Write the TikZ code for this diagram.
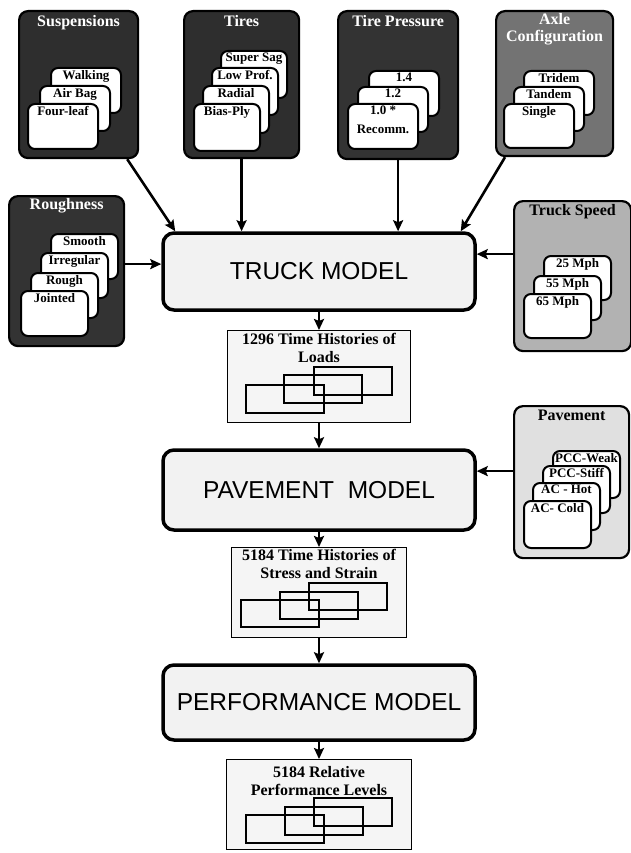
\documentclass[tikz,border=0pt]{standalone}
\usepackage{fontspec}
\setmainfont{Liberation Serif}
\setsansfont{Liberation Sans}
\usetikzlibrary{arrows.meta,calc}

\tikzset{
  parbox/.style={draw, line width=2.2pt, rounded corners=9pt, anchor=north west, inner sep=0pt},
  partitle/.style={font=\bfseries\fontsize{16}{17}\selectfont, inner sep=5pt, align=center},
  card/.style={draw, line width=2pt, fill=white, rounded corners=7pt, anchor=north west, inner sep=0pt, minimum height=45pt},
  cardtxt/.style={font=\bfseries\fontsize{13}{15}\selectfont, inner sep=3pt, align=center},
  model/.style={draw, line width=3.5pt, rounded corners=11pt, fill=black!5, minimum width=312pt, font=\sffamily\fontsize{24.5}{26}\selectfont},
  result/.style={draw, line width=1.1pt, fill=black!4, anchor=north, inner sep=0pt},
  restxt/.style={font=\bfseries\fontsize{16}{18}\selectfont, align=center},
  win/.style={line width=1.1pt},
  arr/.style={line width=2.6pt, -{Stealth[length=11pt,width=10pt,inset=2pt]}}
}

\begin{document}
\begin{tikzpicture}[x=1pt,y=-1pt]
  \clip (0,0) rectangle (631,853);

  % Parameter boxes on top
  \node[parbox, fill=black!82, minimum width=119pt, minimum height=147pt,
    label={[partitle, text=white, anchor=north]north:Suspensions}] (susp) at (18,10) {};
  \foreach \x/\y/\t [count=\n] in {50/67/Walking, 39/85/Air Bag, 27/103/Four-leaf}
    \node[card, minimum width=70pt, label={[cardtxt, anchor=north]north:\t}] (susp\n) at (\x,\y) {};

  \node[parbox, fill=black!82, minimum width=115pt, minimum height=147pt,
    label={[partitle, text=white, anchor=north]north:Tires}] (tires) at (183,10) {};
  \foreach \x/\y/\t [count=\n] in {220/50/Super Sag, 211/67/Low Prof., 202/85/Radial, 193/103/Bias-Ply}
    \node[card, minimum width=66pt, minimum height=47pt, label={[cardtxt, anchor=north]north:\t}] (tire\n) at (\x,\y) {};

  \node[parbox, fill=black!80, minimum width=120pt, minimum height=148pt,
    label={[partitle, text=white, anchor=north]north:Tire Pressure}] (press) at (337,10) {};
  \foreach \x/\y/\t [count=\n] in {368/70/1.4, 357/86/1.2, 347/103/{1.0 *\\[4pt]Recomm.}}
    \node[card, minimum width=70pt, label={[cardtxt, anchor=north]north:\t}] (press\n) at (\x,\y) {};

  \node[parbox, fill=black!55, minimum width=117pt, minimum height=145pt,
    label={[partitle, text=white, anchor=north, inner sep=3pt]north:Axle\\Configuration}] (axle) at (495,10) {};
  \foreach \x/\y/\t [count=\n] in {523/70/Tridem, 513/86/Tandem, 503/103/Single}
    \node[card, minimum width=70pt, minimum height=44pt, label={[cardtxt, anchor=north]north:\t}] (axle\n) at (\x,\y) {};

  % Parameter boxes on the sides
  \node[parbox, fill=black!80, minimum width=115pt, minimum height=150pt,
    label={[partitle, text=white, anchor=north, inner sep=3pt]north:Roughness}] (rough) at (8,195) {};
  \foreach \x/\y/\t [count=\n] in {50/233/Smooth, 40/252/Irregular, 30/272/Rough, 20/290/Jointed}
    \node[card, minimum width=67pt, label={[cardtxt, anchor=north]north:\t}] (rough\n) at (\x,\y) {};

  \node[parbox, fill=black!30, minimum width=117pt, minimum height=150pt,
    label={[partitle, anchor=north, inner sep=4pt]north:Truck Speed}] (speed) at (513,200) {};
  \foreach \x/\y/\t [count=\n] in {543/255/25 Mph, 533/275/55 Mph, 523/293/65 Mph}
    \node[card, minimum width=67pt, minimum height=44pt, label={[cardtxt, anchor=north]north:\t}] (speed\n) at (\x,\y) {};

  \node[parbox, fill=black!12, minimum width=115pt, minimum height=152pt,
    label={[partitle, anchor=north, inner sep=5pt]north:Pavement}] (pave) at (513,405) {};
  \foreach \x/\y/\t [count=\n] in {552/450/PCC-Weak, 542/465/PCC-Stiff, 532/482/AC - Hot, 523/500/AC- Cold}
    \node[card, minimum width=67pt, minimum height=47pt, label={[cardtxt, anchor=north]north:\t}] (pave\n) at (\x,\y) {};

  % Models
  \node[model, minimum height=77pt] (truck) at (319,271.5) {TRUCK MODEL};
  \node[model, minimum height=80pt] (pavement) at (319,490) {PAVEMENT\ \ MODEL};
  \node[model, minimum height=75pt] (perf) at (319,702.5) {PERFORMANCE MODEL};

  % Results
  \node[result, minimum width=183pt, minimum height=92pt,
    label={[restxt, anchor=north, inner sep=3pt]north:1296 Time Histories of\\Loads}] (loads) at (319,330) {};
  \foreach \dx/\dy in {19/55, 57/45, 87/37}
    \draw[win] ($(loads.north west)+(\dx,\dy)$) rectangle +(78,28);

  \node[result, minimum width=175pt, minimum height=90pt,
    label={[restxt, anchor=north, inner sep=2pt]north:5184 Time Histories of\\Stress and Strain}] (stress) at (319,547) {};
  \foreach \dx/\dy in {10/53, 49/45, 78/36}
    \draw[win] ($(stress.north west)+(\dx,\dy)$) rectangle +(78,27);

  \node[result, minimum width=185pt, minimum height=90pt,
    label={[restxt, anchor=north, inner sep=7pt]north:5184 Relative\\Performance Levels}] (levels) at (319,759) {};
  \foreach \dx/\dy in {20/56, 59/48, 88/39}
    \draw[win] ($(levels.north west)+(\dx,\dy)$) rectangle +(78,28);

  % Arrows into the truck model
  \draw[arr] ($(susp.south east)+(-12,0)$) -- ($(truck.north west)+(14,0)$);
  \draw[arr] (tires.south) -- (tires.south |- truck.north);
  \draw[arr] (press.south) -- (press.south |- truck.north);
  \draw[arr] ($(axle.south west)+(10,0)$) -- ($(truck.north east)+(-16,0)$);
  \coordinate (roughout) at ($(rough.east)+(0,-7)$);
  \draw[arr] (roughout) -- (roughout -| truck.west);
  \coordinate (speedout) at ($(speed.west)+(0,-22)$);
  \draw[arr] (speedout) -- (speedout -| truck.east);
  \coordinate (paveout) at ($(pave.west)+(0,-11)$);
  \draw[arr] (paveout) -- (paveout -| pavement.east);

  % Arrows down the chain
  \draw[arr] (truck.south) -- (loads.north);
  \draw[arr] (loads.south) -- (pavement.north);
  \draw[arr] (pavement.south) -- (stress.north);
  \draw[arr] (stress.south) -- (perf.north);
  \draw[arr] (perf.south) -- (levels.north);
\end{tikzpicture}
\end{document}
